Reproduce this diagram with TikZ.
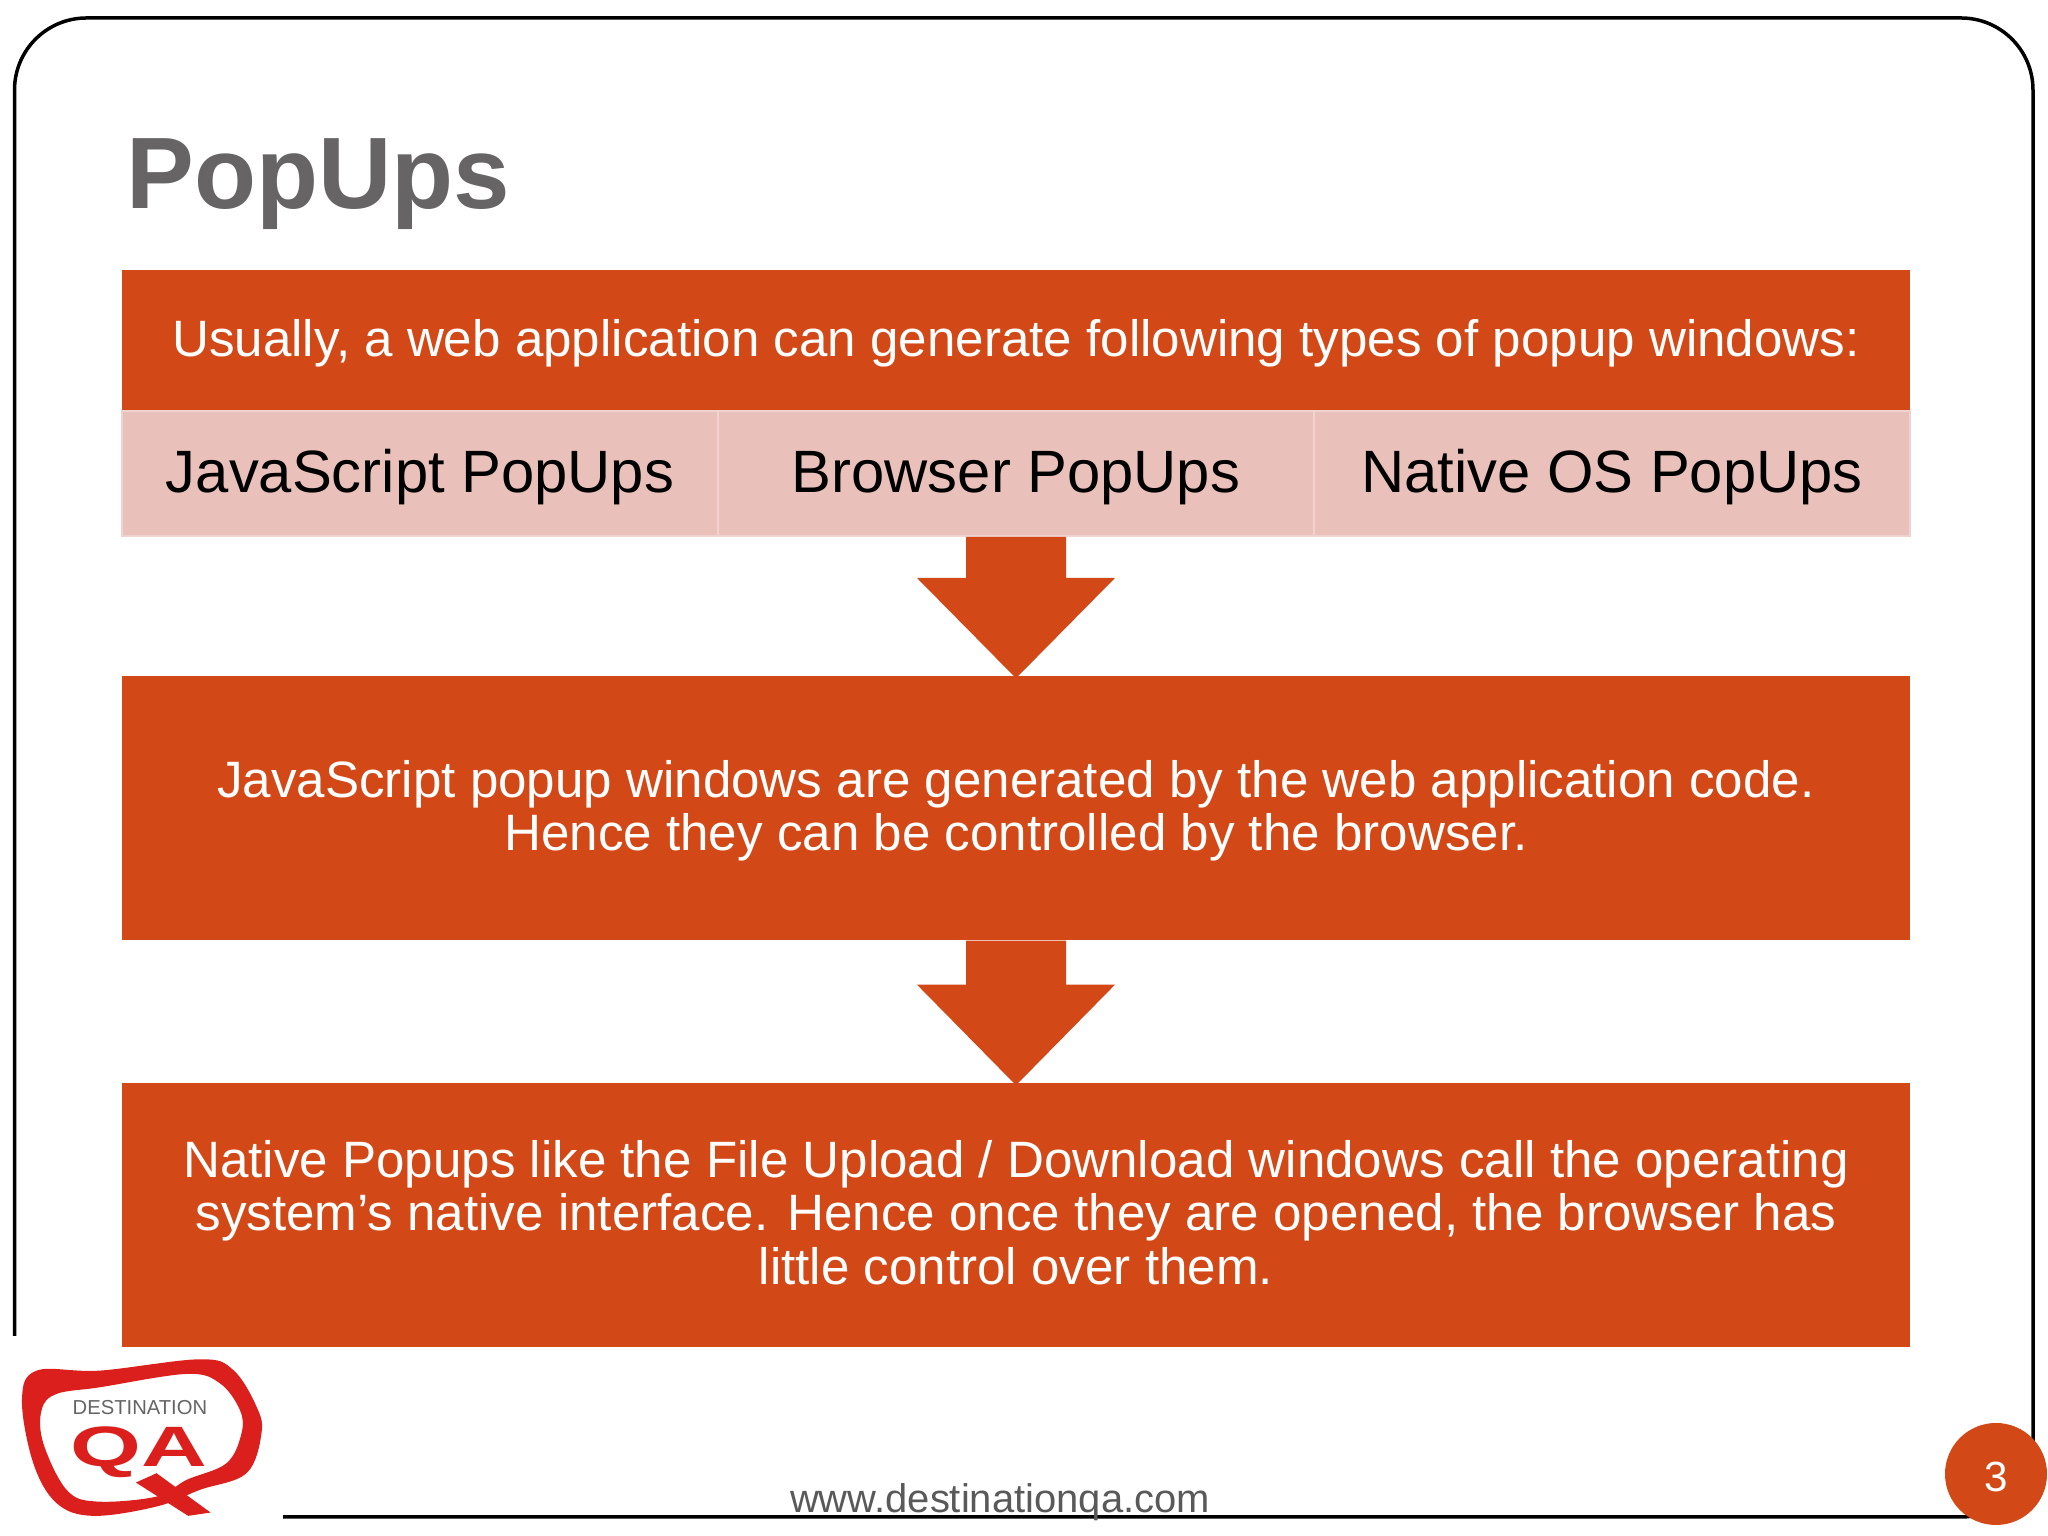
\documentclass[tikz,border=0pt]{standalone}
\usepackage{fontspec}
\setmainfont{Liberation Sans}
\usetikzlibrary{calc}
\definecolor{dqorange}{HTML}{D34817}
\definecolor{dqpale}{HTML}{E9C1BA}
\definecolor{dqedge}{HTML}{F0D3CE}
\definecolor{dqgrey}{HTML}{666464}
\definecolor{dqfoot}{HTML}{595959}
\definecolor{dqred}{HTML}{DB1F1C}
\tikzset{band/.style = {fill = dqorange, text = white, inner sep = 0, minimum width = 17.88cm,
                        align = center, font = \fontsize{14.55}{15.2}\selectfont}}
\tikzset{tab/.style = {fill = dqpale, draw = dqedge, line width = .02cm, inner sep = 0,
                       minimum width = 5.96cm, minimum height = 1.25cm, text height = .584cm, text depth = .2cm,
                       font = \fontsize{17}{20}\selectfont}}
\newcommand{\blockdown}[3]{\fill [dqorange] ($(#1.south) + (-.5, 0)$) -- ++(0, -#3) -- ++(-.49, 0)
  -- ($(#2.north) + (0, -.03)$) -- ($(#1.south) + (.99, -#3)$) -- ++(-.49, 0) -- ($(#1.south) + (.5, 0)$) -- cycle;}

\begin{document}
\begin{tikzpicture}
      \useasboundingbox (0, 0) rectangle (20.48, 15.36);
      \draw [line width = .035cm, rounded corners = .72cm] (.145, 2.00) -- (.145, 15.18) -- (20.33, 15.18)
        -- (20.33, .19) -- (2.83, .19);
      \node (title) at (1.26, 13.277) [anchor=base west, inner sep = 0, text = dqgrey, font = \fontsize{28.9}{31}\selectfont\bfseries] {PopUps};
      \node (intro) at (10.16, 11.955) [band, minimum height = 1.41cm] {\rule{0pt}{.427cm}Usually, a web application can generate following types of popup windows:};
      \node (jspop) at (4.20, 10.625) [tab] {JavaScript PopUps};
      \node (browserpop) at (10.16, 10.625) [tab] {Browser PopUps};
      \node (nativepop) at (16.12, 10.625) [tab] {Native OS PopUps};
      \node (jsnote) at (10.16, 7.28) [band, minimum height = 2.64cm] {\rule{0pt}{.427cm}JavaScript popup windows are generated by the web application code.\\Hence they can be controlled by the browser.};
      \node (nativenote) at (10.16, 3.21) [band, minimum height = 2.64cm] {Native Popups like the File Upload / Download windows call the operating\\system’s native interface. Hence once they are opened, the browser has\\\rule[-.052cm]{0pt}{0pt}little control over them.};
      \blockdown{browserpop}{jsnote}{.41}
      \blockdown{jsnote}{nativenote}{.44}
      \node (website) at (10.0, .235) [anchor=base, inner sep = 0, text = dqfoot, font = \fontsize{11.37}{13}\selectfont] {www.destinationqa.com};
      \node (pagenum) at (19.96, .62) [circle, fill = dqorange, text = white, inner sep = 0, minimum size = 1.02cm, font = \fontsize{12}{14}\selectfont] {\rule{0pt}{.36cm}3};
      \begin{scope}[shift = {(0, 2.36)}, x = .01cm / 3, y = .01cm / 3]
        \fill [dqred, even odd rule] plot [smooth cycle, tension = .6] coordinates {(66, -300) (110, -212) (300, -212) (600, -178) (700, -210) (770, -320) (785, -400) (740, -520) (600, -570) (470, -620) (280, -648) (170, -610) (100, -490)}
          plot [smooth cycle, tension = .6] coordinates {(125, -330) (170, -282) (300, -262) (560, -222) (660, -250) (720, -330) (725, -400) (680, -490) (560, -540) (470, -590) (290, -605) (200, -570) (130, -430)};
        \fill [dqred] (408, -548) -- (470, -520) -- (632, -638) -- (565, -648) -- cycle;
        \node (logoname) at (420, -345) [anchor=base, inner sep = 0, text = dqgrey, font = \fontsize{5.75}{7}\selectfont] {DESTINATION};
        \node (logoqa) at (418, -500) [anchor=base, inner sep = 0, text = dqred, xscale = 1.6, font = \fontsize{16.2}{18}\selectfont\bfseries] {QA};
      \end{scope}
    \end{tikzpicture}
\end{document}
